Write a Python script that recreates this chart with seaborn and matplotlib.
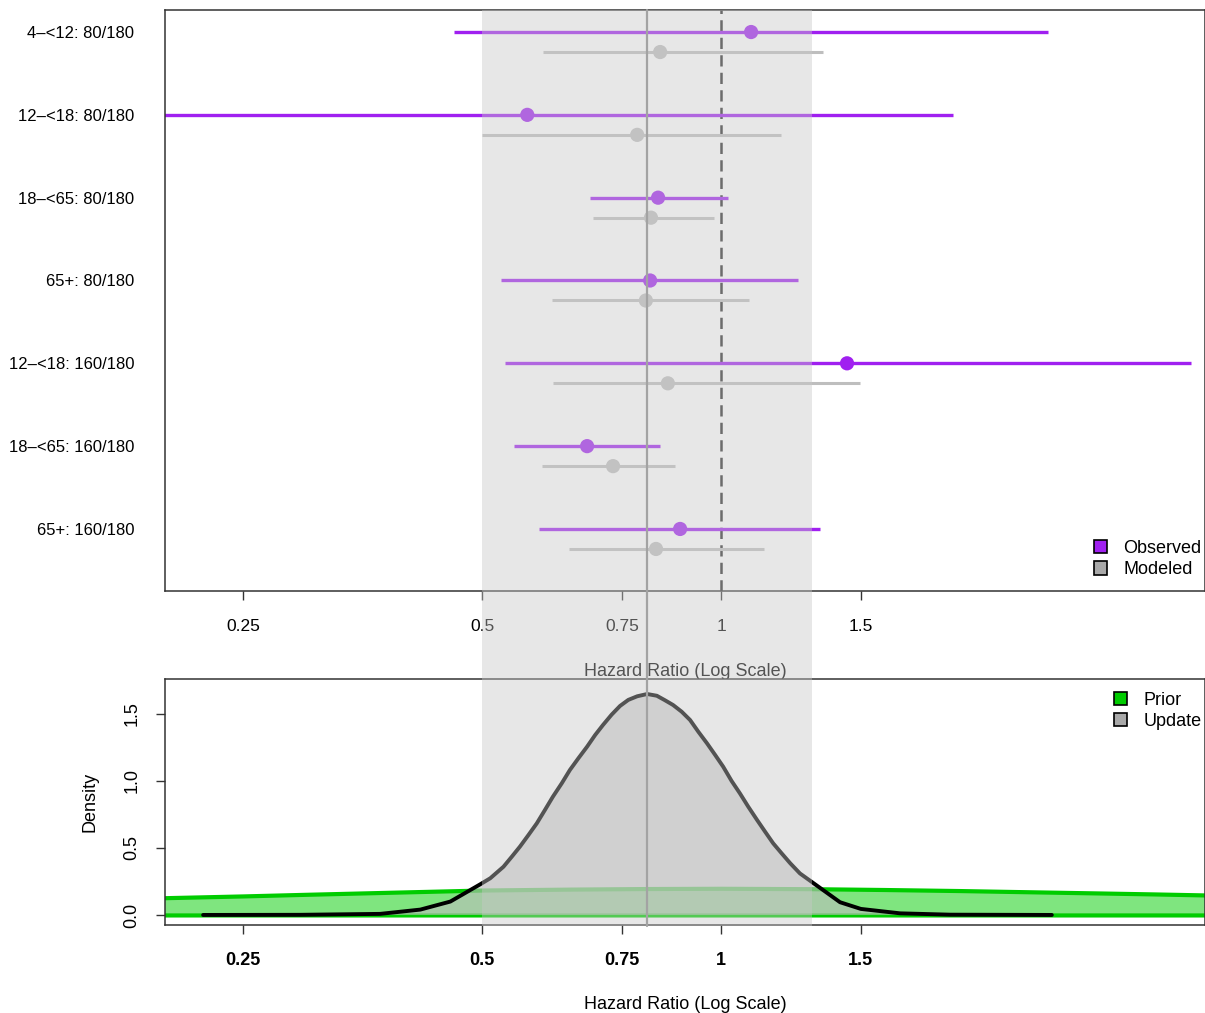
import numpy as np
import pandas as pd
import matplotlib
matplotlib.use("Agg")
import matplotlib.pyplot as plt
import matplotlib.transforms as mtransforms
from matplotlib.patches import Rectangle, Patch
from matplotlib.lines import Line2D
from matplotlib.ticker import FixedLocator, FixedFormatter, NullLocator
import seaborn as sns

# ---------------- data ----------------
row_labels = ["4\u2013<12: 80/180", "12\u2013<18: 80/180", "18\u2013<65: 80/180",
              "65+: 80/180", "12\u2013<18: 160/180", "18\u2013<65: 160/180",
              "65+: 160/180"]
obs_hr = [1.091, 0.570, 0.833, 0.814, 1.441, 0.678, 0.888]
obs_lo = [0.461, 0.150, 0.684, 0.528, 0.534, 0.549, 0.590]
obs_hi = [2.580, 1.960, 1.020, 1.250, 3.910, 0.838, 1.333]
mod_hr = [0.838, 0.784, 0.816, 0.804, 0.857, 0.731, 0.828]
mod_lo = [0.597, 0.500, 0.690, 0.612, 0.614, 0.595, 0.643]
mod_hi = [1.344, 1.190, 0.980, 1.085, 1.497, 0.875, 1.133]

ref_hr = 1.0          # dashed null line
center_hr = 0.807     # grey vertical line
band_lo, band_hi = 0.5, 1.302

# update density
upd_x = [0.2226, 0.295, 0.372, 0.418, 0.456, 0.497, 0.512, 0.532, 0.545, 0.558,
         0.572, 0.586, 0.600, 0.614, 0.630, 0.645, 0.661, 0.678, 0.694, 0.710,
         0.728, 0.746, 0.764, 0.784, 0.807, 0.830, 0.850, 0.870, 0.892, 0.914,
         0.936, 0.960, 0.983, 1.006, 1.031, 1.056, 1.082, 1.110, 1.136, 1.163,
         1.192, 1.222, 1.257, 1.302, 1.412, 1.500, 1.681, 1.943, 2.610]
upd_y = [0.000, 0.001, 0.008, 0.040, 0.100, 0.228, 0.274, 0.360, 0.435, 0.510,
         0.597, 0.684, 0.784, 0.883, 0.983, 1.082, 1.169, 1.256, 1.343, 1.418,
         1.495, 1.560, 1.605, 1.632, 1.649, 1.636, 1.602, 1.567, 1.517, 1.455,
         1.368, 1.281, 1.194, 1.107, 1.000, 0.908, 0.808, 0.709, 0.622, 0.535,
         0.460, 0.386, 0.310, 0.245, 0.095, 0.045, 0.012, 0.002, 0.000]

# prior density
prior_x = [0.18, 0.20, 0.25, 0.30, 0.40, 0.50, 0.65, 0.80, 1.00, 1.30, 1.60,
           2.00, 2.50, 3.00, 3.50, 4.10, 4.50]
prior_y = [0.122, 0.129, 0.142, 0.154, 0.172, 0.186, 0.193, 0.197, 0.199, 0.196,
           0.190, 0.182, 0.172, 0.164, 0.157, 0.149, 0.144]

x_ticks = [0.25, 0.5, 0.75, 1, 1.5]
x_tick_labels = ["0.25", "0.5", "0.75", "1", "1.5"]
dens_ticks = [0.0, 0.5, 1.0, 1.5]
dens_tick_labels = ["0.0", "0.5", "1.0", "1.5"]

# ---------------- style ----------------
sns.set_style("ticks")
plt.rcParams["font.family"] = ["Liberation Sans", "DejaVu Sans"]
plt.rcParams["text.color"] = "black"
plt.rcParams["axes.labelcolor"] = "black"
plt.rcParams["xtick.labelcolor"] = "black"
plt.rcParams["ytick.labelcolor"] = "black"

PURPLE = "#A020F0"
GREY = "#BEBEBE"
SPINE = "#333333"

W, H = 1205, 1013
fig = plt.figure(figsize=(W / 100, H / 100), dpi=100)

def fy(p):
    return 1 - p / H

left = 165 / W
ax1 = fig.add_axes([left, fy(591), 1.0 - left, fy(10) - fy(591)])
ax2 = fig.add_axes([left, fy(925), 1.0 - left, fy(679) - fy(925)])

xlim = (0.1993, 4.07)

# ---------------- top forest panel ----------------
n = len(row_labels)
pos_obs = list(range(n))
pos_mod = [p + 0.2415 for p in pos_obs]

ax1.hlines(pos_mod, mod_lo, mod_hi, color=GREY, lw=2.2, zorder=2)
ax1.hlines(pos_obs, obs_lo, obs_hi, color=PURPLE, lw=2.4, zorder=2)
ax1.axvline(ref_hr, color="#2a2a2a", lw=1.8, linestyle=(0, (4.5, 2.5)), zorder=1.5)

df = pd.DataFrame({
    "hr": obs_hr + mod_hr,
    "pos": pos_obs + pos_mod,
    "kind": ["Observed"] * n + ["Modeled"] * n,
})
sns.scatterplot(data=df, x="hr", y="pos", hue="kind",
                palette={"Observed": PURPLE, "Modeled": GREY},
                s=105, edgecolor="none", legend=False, ax=ax1, zorder=3)

ax1.set_xscale("log")
ax1.set_xlim(*xlim)
ax1.set_ylim(6.749, -0.266)
ax1.set_yticks(pos_obs)
ax1.set_yticklabels(row_labels, fontsize=12)
ax1.tick_params(axis="y", length=0, pad=22)
ax1.xaxis.set_major_locator(FixedLocator(x_ticks))
ax1.xaxis.set_major_formatter(FixedFormatter(x_tick_labels))
ax1.xaxis.set_minor_locator(NullLocator())
ax1.tick_params(axis="x", length=6.5, width=1.0, color=SPINE, pad=13.5, labelsize=12.5)
ax1.set_xlabel("Hazard Ratio (Log Scale)", fontsize=13)
ax1.xaxis.set_label_coords(0.5, -80 / 581)
ax1.xaxis.label.set_va("center")
ax1.set_ylabel("")

leg1 = ax1.legend(handles=[Patch(facecolor=PURPLE, edgecolor="black", lw=1.2, label="Observed"),
                           Patch(facecolor="#A9A9A9", edgecolor="black", lw=1.2, label="Modeled")],
                  loc="lower right", bbox_to_anchor=(1.009, 0.0), frameon=False,
                  fontsize=13, handlelength=0.75, handleheight=0.75,
                  handletextpad=0.9, labelspacing=0.25, borderaxespad=0.3)

# ---------------- bottom density panel ----------------
ax2.fill_between(prior_x, 0, prior_y, facecolor=(0.0, 0.80, 0.0, 0.5),
                 edgecolor="#00CC00", lw=3.0, zorder=2)
ax2.fill_between(upd_x, 0, upd_y, facecolor=(0.745, 0.745, 0.745, 0.62),
                 edgecolor="none", zorder=3)
sns.lineplot(x=upd_x + [upd_x[0]], y=upd_y + [upd_y[0]], sort=False,
             color="black", lw=2.8, ax=ax2, zorder=4)

ax2.set_xscale("log")
ax2.set_xlim(*xlim)
ax2.set_ylim(-0.075, 1.761)
ax2.xaxis.set_major_locator(FixedLocator(x_ticks))
ax2.xaxis.set_major_formatter(FixedFormatter(x_tick_labels))
ax2.xaxis.set_minor_locator(NullLocator())
ax2.tick_params(axis="x", length=6.5, width=1.0, color=SPINE, pad=13, labelsize=13)
for t in ax2.get_xticklabels():
    t.set_fontweight("bold")
ax2.set_yticks(dens_ticks)
ax2.set_yticklabels(dens_tick_labels, fontsize=13, rotation=90, va="center")
ax2.tick_params(axis="y", length=6.5, width=1.0, color=SPINE, pad=11)
ax2.set_xlabel("Hazard Ratio (Log Scale)", fontsize=13)
ax2.xaxis.set_label_coords(0.5, -79 / 246)
ax2.xaxis.label.set_va("center")
ax2.set_ylabel("Density", fontsize=13)
ax2.yaxis.set_label_coords(-75 / 1040, 0.5)
ax2.yaxis.label.set_va("center")

leg2 = ax2.legend(handles=[Patch(facecolor="#00CC00", edgecolor="black", lw=1.2, label="Prior"),
                           Patch(facecolor="#A9A9A9", edgecolor="black", lw=1.2, label="Update")],
                  loc="upper right", bbox_to_anchor=(1.009, 1.0), frameon=False,
                  fontsize=13, handlelength=0.75, handleheight=0.75,
                  handletextpad=0.9, labelspacing=0.25, borderaxespad=0.3)

for ax in (ax1, ax2):
    for s in ax.spines.values():
        s.set_color(SPINE)
        s.set_linewidth(1.1)

# ---------------- shared band and centre line across both panels ----------------
blend = mtransforms.blended_transform_factory(ax1.transData, fig.transFigure)
y0, y1 = fy(926), fy(10)
band = Rectangle((band_lo, y0), band_hi - band_lo, y1 - y0, transform=blend,
                 facecolor="#C8C8C8", alpha=0.42, edgecolor="none", zorder=5)
fig.add_artist(band)
cline = Line2D([center_hr, center_hr], [y0, y1], transform=blend,
               color="#A3A3A3", lw=1.6, zorder=6)
fig.add_artist(cline)

fig.savefig("out.png", dpi=100)
